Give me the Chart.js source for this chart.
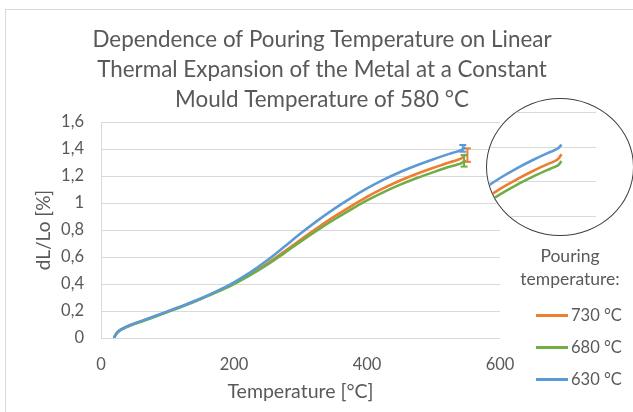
<!DOCTYPE html>
<html lang="en">
<head>
<meta charset="UTF-8">
<title>Dependence of Pouring Temperature on Linear Thermal Expansion</title>
<script src="https://cdn.jsdelivr.net/npm/chart.js"></script>
<style>
    body { margin: 0; background: #fff; font-family: Lato, sans-serif; }
    #wrap { position: relative; width: 633px; height: 412px; overflow: hidden; }
    #frame { position: absolute; left: 5px; top: 9px; width: 700px; height: 500px;
             border-left: 1px solid #d9d9d9; border-top: 1px solid #d9d9d9; }
    #mainChart { position: absolute; left: 0; top: 0; }
    #lupa { position: absolute; left: 486px; top: 98px; width: 146px; height: 136px;
            border: 1px solid #404040; border-radius: 50%; overflow: hidden; background: #fff; }
    #legenda { position: absolute; left: 520px; top: 244px; width: 110px; color: #595959; font-size: 16.5px; }
    #legenda .titulo { text-align: center; line-height: 23px; font-size: 17.5px; margin-left: -10px; }
    #legenda .item { position: absolute; left: 16px; height: 20px; white-space: nowrap; }
    #legenda .traco { position: absolute; left: 0; top: 9px; width: 32px; height: 2.5px; }
    #legenda .txt { position: absolute; left: 35px; top: 0; line-height: 20px; }
</style>
</head>
<body>
<div id="wrap">
    <div id="frame"></div>
    <canvas id="mainChart" width="633" height="412"></canvas>
    <div id="lupa"><canvas id="insetChart" width="146" height="136"></canvas></div>
    <div id="legenda"></div>
</div>

<script>
// temperatura [°C]
const temps = [19.5, 22, 26, 33, 45, 60, 75, 100, 125, 150, 175, 200, 225, 250, 275, 300,
               325, 350, 375, 400, 425, 450, 475, 500, 525, 535, 543, 548];

// dL/Lo [%]
const series730 = [0, 0.024, 0.048, 0.07, 0.096, 0.122, 0.149, 0.195, 0.241, 0.291, 0.345, 0.405, 0.473, 0.551, 0.638, 0.728,
                   0.815, 0.897, 0.974, 1.046, 1.11, 1.167, 1.217, 1.262, 1.303, 1.317, 1.334, 1.36];
const series680 = [0, 0.022, 0.046, 0.068, 0.094, 0.12, 0.147, 0.193, 0.239, 0.289, 0.342, 0.4, 0.467, 0.543, 0.627, 0.714,
                   0.797, 0.876, 0.95, 1.019, 1.081, 1.136, 1.185, 1.229, 1.27, 1.284, 1.298, 1.32];
const series630 = [0, 0.025, 0.05, 0.072, 0.098, 0.125, 0.152, 0.197, 0.243, 0.293, 0.349, 0.413, 0.488, 0.576, 0.674, 0.774,
                   0.868, 0.955, 1.035, 1.108, 1.173, 1.23, 1.28, 1.325, 1.366, 1.381, 1.396, 1.415];

const seriesLabels = ['730 °C', '680 °C', '630 °C'];
const seriesColors = ['#ED7D31', '#70AD47', '#5B9BD5'];

// barras de erro no fim de cada curva (mesma ordem das séries)
const errTemps = [551, 546, 544];
const errLow = [1.305, 1.27, 1.38];
const errHigh = [1.405, 1.355, 1.43];

const xTickValues = [0, 200, 400, 600];
const yTickLabels = ['0', '0,2', '0,4', '0,6', '0,8', '1', '1,2', '1,4', '1,6'];
const insetGrid = [1.0, 1.2, 1.4, 1.6];

const cinza = '#595959';
const fonte = 'Lato, sans-serif';

function pontos(valores) {
    return temps.map((t, i) => ({ x: t, y: valores[i] }));
}

const todasSeries = [series730, series680, series630];

function datasetsCurvas(largura) {
    return todasSeries.map((s, i) => ({
        label: seriesLabels[i],
        data: pontos(s),
        borderColor: seriesColors[i],
        backgroundColor: seriesColors[i],
        borderWidth: largura,
        pointRadius: 0,
        cubicInterpolationMode: 'monotone',
        order: 2 - i
    }));
}

const barrasErro = errTemps.map((t, i) => ({
    label: 'erro ' + seriesLabels[i],
    data: [{ x: t, y: errLow[i] }, { x: t, y: errHigh[i] }],
    borderColor: seriesColors[i],
    backgroundColor: seriesColors[i],
    borderWidth: 2,
    pointStyle: 'line',
    pointRadius: 3.5,
    pointBorderWidth: 2,
    order: 2 - i
}));

new Chart(document.getElementById('mainChart').getContext('2d'), {
    type: 'line',
    data: { datasets: datasetsCurvas(2.6).concat(barrasErro) },
    options: {
        responsive: false,
        animation: false,
        layout: { padding: { left: 11, top: 0, right: 0, bottom: 0 } },
        plugins: {
            legend: { display: false },
            tooltip: { enabled: false },
            title: {
                display: true,
                text: ['Dependence of Pouring Temperature on Linear',
                       'Thermal Expansion of the Metal at a Constant',
                       'Mould Temperature of 580 °C'],
                color: cinza,
                font: { family: fonte, size: 22.4, weight: 'normal', lineHeight: 1.34 },
                padding: { top: 25, bottom: 7 }
            }
        },
        scales: {
            x: {
                type: 'linear',
                min: 0, max: 600,
                afterFit: s => { s.height = 74; },
                afterBuildTicks: s => { s.ticks = xTickValues.map(v => ({ value: v })); },
                grid: { display: false, drawTicks: false },
                border: { display: false },
                ticks: { color: cinza, padding: 17, font: { family: fonte, size: 16.5 } },
                title: {
                    display: true, text: 'Temperature [°C]', color: cinza,
                    font: { family: fonte, size: 19.5 }, padding: { top: 0, bottom: 9 }
                }
            },
            y: {
                min: 0, max: 1.6,
                afterFit: s => { s.width = 90; },
                grid: { color: '#d9d9d9', drawTicks: false },
                border: { display: true, color: '#d9d9d9' },
                ticks: {
                    stepSize: 0.2, color: cinza, padding: 17,
                    font: { family: fonte, size: 16.5 },
                    callback: (v, i) => yTickLabels[i]
                },
                title: {
                    display: true, text: 'dL/Lo [%]', color: cinza,
                    font: { family: fonte, size: 19 }, padding: { top: 21, bottom: 0 }
                }
            },
            espaco: {
                type: 'linear', position: 'right',
                afterFit: s => { s.width = 133; },
                grid: { display: false }, border: { display: false },
                ticks: { display: false }
            }
        }
    }
});

// lupa (zoom na ponta das curvas)
new Chart(document.getElementById('insetChart').getContext('2d'), {
    type: 'line',
    data: { datasets: datasetsCurvas(2.6) },
    options: {
        responsive: false,
        animation: false,
        layout: { padding: { left: 0, top: 0, right: 37, bottom: 0 } },
        plugins: { legend: { display: false }, tooltip: { enabled: false } },
        scales: {
            x: { type: 'linear', min: 425, max: 605, display: false },
            y: {
                min: 0.8945, max: 1.678,
                afterBuildTicks: s => { s.ticks = insetGrid.map(v => ({ value: v })); },
                grid: { color: '#d9d9d9', drawTicks: false },
                border: { display: false },
                ticks: { display: false }
            }
        }
    }
});

// legenda
const leg = document.getElementById('legenda');
leg.innerHTML = '<div class="titulo">Pouring<br>temperature:</div>';
seriesLabels.forEach((nome, i) => {
    leg.innerHTML += `<div class="item" style="top:${61 + i * 32}px">
        <div class="traco" style="background:${seriesColors[i]}"></div>
        <div class="txt">${nome}</div></div>`;
});
</script>
</body>
</html>
